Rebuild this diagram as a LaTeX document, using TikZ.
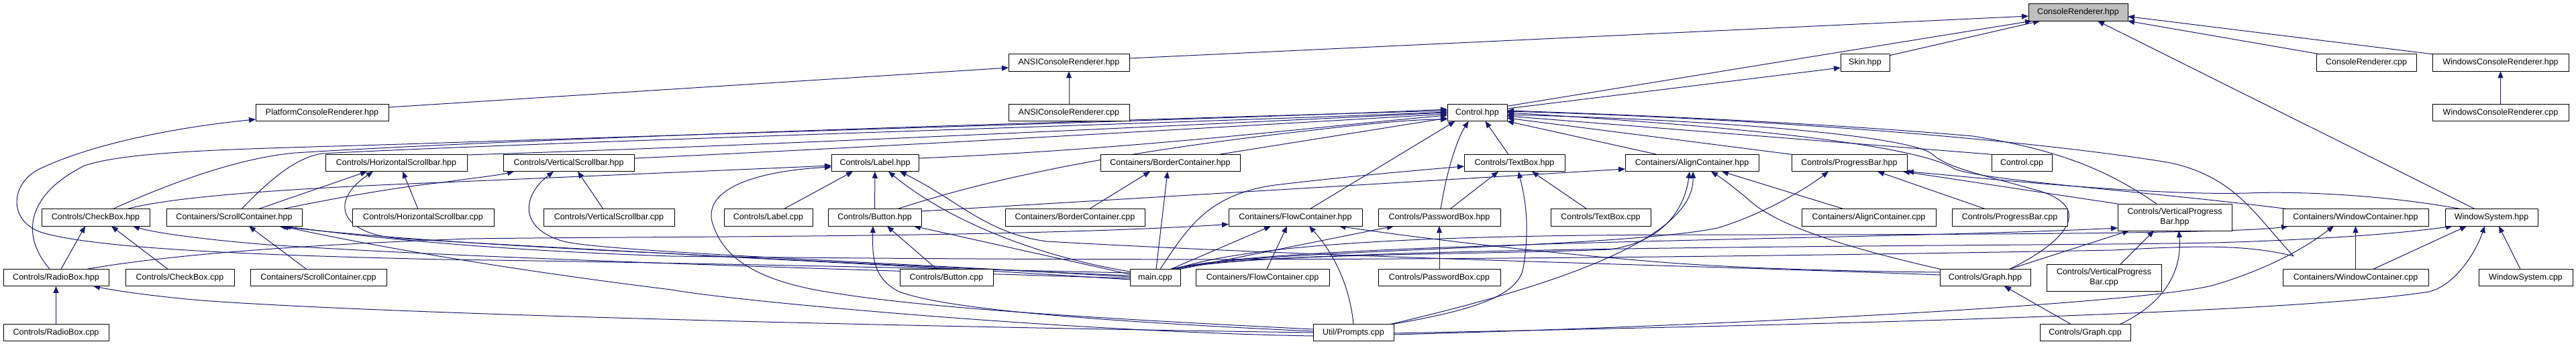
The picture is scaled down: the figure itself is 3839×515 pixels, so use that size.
\documentclass[tikz,border=0pt]{standalone}
\usepackage{fontspec}
\setmainfont{Liberation Sans}
\usetikzlibrary{arrows.meta}
\pgfdeclarelayer{bg}
\pgfdeclarelayer{background}
\pgfsetlayers{bg,background,main}
\definecolor{edgecol}{HTML}{191970}
\definecolor{rootfill}{HTML}{BFBFBF}
\begin{document}
\begin{tikzpicture}[x=1pt,y=-1pt,
  nd/.style={draw=black, line width=1pt, fill=white, rectangle, inner sep=0pt, outer sep=0pt,
    minimum height=25.5pt, font=\fontsize{12.5}{14.5}\selectfont, align=center},
  dep/.style={draw=edgecol, line width=1pt, -{Triangle[length=10pt,width=8pt]}}]
\useasboundingbox (0,0) rectangle (3839,515);
\begin{pgfonlayer}{bg}
\fill[white] (0,0) rectangle (3839,515);
\end{pgfonlayer}
% ---------------- nodes
\node[nd,fill=rootfill,minimum width=148pt] (CRh) at (3097,18.5) {ConsoleRenderer.hpp};
\node[nd,minimum width=180pt] (ANSIh) at (1593,93.5) {ANSIConsoleRenderer.hpp};
\node[nd,minimum width=73pt] (Skin) at (2779.5,93.5) {Skin.hpp};
\node[nd,minimum width=149pt] (CRc) at (3526.5,93.5) {ConsoleRenderer.cpp};
\node[nd,minimum width=203pt] (WCRh) at (3726.5,93.5) {WindowsConsoleRenderer.hpp};
\node[nd,minimum width=198pt] (Plat) at (480,168) {PlatformConsoleRenderer.hpp};
\node[nd,minimum width=180pt] (ANSIc) at (1593,168) {ANSIConsoleRenderer.cpp};
\node[nd,minimum width=89pt] (Ctrl) at (2201.5,168) {Control.hpp};
\node[nd,minimum width=203pt] (WCRc) at (3726.5,168) {WindowsConsoleRenderer.cpp};
\node[nd,minimum width=211pt] (HSh) at (590.5,243) {Controls/HorizontalScrollbar.hpp};
\node[nd,minimum width=195pt] (VSh) at (847.5,243) {Controls/VerticalScrollbar.hpp};
\node[nd,minimum width=130pt] (Labh) at (1304,243) {Controls/Label.hpp};
\node[nd,minimum width=208pt] (BCh) at (1744,243) {Containers/BorderContainer.hpp};
\node[nd,minimum width=150pt] (TBh) at (2257,243) {Controls/TextBox.hpp};
\node[nd,minimum width=199pt] (ACh) at (2521.5,243) {Containers/AlignContainer.hpp};
\node[nd,minimum width=172pt] (PBh) at (2756,243) {Controls/ProgressBar.hpp};
\node[nd,minimum width=90pt] (Ctrlc) at (3013,243) {Control.cpp};
\node[nd,minimum width=161pt] (CBh) at (142.5,324.5) {Controls/CheckBox.hpp};
\node[nd,minimum width=202pt] (SCh) at (349,324.5) {Containers/ScrollContainer.hpp};
\node[nd,minimum width=211pt] (HSc) at (630.5,324.5) {Controls/HorizontalScrollbar.cpp};
\node[nd,minimum width=195pt] (VSc) at (907.5,324.5) {Controls/VerticalScrollbar.cpp};
\node[nd,minimum width=132pt] (Labc) at (1145,324.5) {Controls/Label.cpp};
\node[nd,minimum width=139pt] (Buth) at (1303.5,324.5) {Controls/Button.hpp};
\node[nd,minimum width=208pt] (BCc) at (1602,324.5) {Containers/BorderContainer.cpp};
\node[nd,minimum width=199pt] (FCh) at (1930.5,324.5) {Containers/FlowContainer.hpp};
\node[nd,minimum width=182pt] (PWh) at (2145,324.5) {Controls/PasswordBox.hpp};
\node[nd,minimum width=149pt] (TBc) at (2385.5,324.5) {Controls/TextBox.cpp};
\node[nd,minimum width=200pt] (ACc) at (2785,324.5) {Containers/AlignContainer.cpp};
\node[nd,minimum width=172pt] (PBc) at (2995,324.5) {Controls/ProgressBar.cpp};
\node[nd,minimum width=170pt,minimum height=40pt] (VPBh) at (3241,324) {Controls/VerticalProgress\\Bar.hpp};
\node[nd,minimum width=217pt] (WCh) at (3510.5,324.5) {Containers/WindowContainer.hpp};
\node[nd,minimum width=138pt] (WSh) at (3713,324.5) {WindowSystem.hpp};
\node[nd,minimum width=157pt] (RBh) at (83.5,414) {Controls/RadioBox.hpp};
\node[nd,minimum width=162pt] (CBc) at (268,414) {Controls/CheckBox.cpp};
\node[nd,minimum width=203pt] (SCc) at (474.5,414) {Containers/ScrollContainer.cpp};
\node[nd,minimum width=139pt] (Butc) at (1410.5,414) {Controls/Button.cpp};
\node[nd,minimum width=75pt] (mainc) at (1721.5,414) {main.cpp};
\node[nd,minimum width=199pt] (FCc) at (1881.5,414) {Containers/FlowContainer.cpp};
\node[nd,minimum width=182pt] (PWc) at (2145,414) {Controls/PasswordBox.cpp};
\node[nd,minimum width=135pt] (Grh) at (2958.5,414) {Controls/Graph.hpp};
\node[nd,minimum width=171pt,minimum height=40pt] (VPBc) at (3135.5,414) {Controls/VerticalProgress\\Bar.cpp};
\node[nd,minimum width=217pt] (WCc) at (3510.5,414) {Containers/WindowContainer.cpp};
\node[nd,minimum width=140pt] (WSc) at (3764,414) {WindowSystem.cpp};
\node[nd,minimum width=157pt] (RBc) at (83.5,496) {Controls/RadioBox.cpp};
\node[nd,minimum width=120pt] (Prom) at (2017,496) {Util/Prompts.cpp};
\node[nd,minimum width=135pt] (Grc) at (3107.5,496) {Controls/Graph.cpp};
\coordinate (gh) at (3418,382);
% ---------------- edges
\begin{pgfonlayer}{background}
% top part
\draw[dep] ([yshift=6.5]ANSIh.east) -- ([yshift=-5.5]CRh.west);
\draw[dep] ([yshift=-2]Skin.north east) -- ([xshift=-57]CRh.south);
\draw[dep] ([yshift=-3]Ctrl.north east) -- ([xshift=5]CRh.south west);
\draw[dep] ([yshift=6]Ctrl.east) -- ([yshift=-7.5]Skin.west);
\draw[dep] ([xshift=-69.5]CRc.north) -- (CRh.south east);
\draw[dep] (WCRh.north west) -- ([yshift=-6]CRh.east);
\draw[dep] ([xshift=-24.5]WSh.north) -- ([xshift=29]CRh.south);
\draw[dep] ([yshift=8]Plat.east) -- ([yshift=-7.5]ANSIh.west);
\draw[dep] (ANSIc) -- (ANSIh);
\draw[dep] (WCRc) -- (WCRh);
\draw[dep] ([yshift=7]mainc.west) .. controls (1300,398) and (900,390) .. (660,387)
  .. controls (400,381) and (150,372) .. (63,347) .. controls (10,330) and (15,270) .. (63,250)
  .. controls (150,210) and (280,188) .. ([yshift=-10]Plat.west);
% into Control.hpp from the left
\draw[dep] ([xshift=-9.5]RBh.north) .. controls (30,350) and (40,290) .. (126,247)
  .. controls (200,222) and (400,222) .. (660,213) .. controls (1200,195) and (1900,175) .. ([yshift=5]Ctrl.west);
\draw[dep] ([xshift=25.5]CBh.north) .. controls (260,270) and (360,235) .. (440,228)
  .. controls (800,205) and (1700,178) .. ([yshift=3]Ctrl.west);
\draw[dep] ([xshift=11]SCh.north) .. controls (400,270) and (440,235) .. (480,229)
  .. controls (800,212) and (1800,182) .. ([yshift=1]Ctrl.west);
\draw[dep] ([yshift=12]HSh.east) .. controls (1200,215) and (1900,180) .. (Ctrl.west);
\draw[dep] ([yshift=7]VSh.east) .. controls (1300,220) and (1900,185) .. ([yshift=-2]Ctrl.west);
\draw[dep] ([yshift=7]Labh.east) .. controls (1700,222) and (1950,190) .. ([yshift=-4]Ctrl.west);
\draw[dep] ([xshift=73]BCh.north) -- ([yshift=-8]Ctrl.west);
\draw[dep] ([xshift=33.5]Buth.north) .. controls (1450,275) and (1620,232) .. (1940,196)
  .. controls (2050,183) and (2110,178) .. ([yshift=-10]Ctrl.west);
% into Control.hpp from below / right
\draw[dep] ([xshift=21.5]FCh.north) -- ([xshift=-33]Ctrl.south);
\draw[dep] ([xshift=2]PWh.north) .. controls (2155,260) and (2170,210) .. ([xshift=-13]Ctrl.south);
\draw[dep] ([xshift=-9]TBh.north) -- ([xshift=12]Ctrl.south);
\draw[dep] ([xshift=-52.5]ACh.north) -- (Ctrl.south east);
\draw[dep] (PBh.north west) -- ([yshift=-8]Ctrl.east);
\draw[dep] (Ctrlc.north west) -- ([yshift=-5]Ctrl.east);
\draw[dep] ([xshift=-27]VPBh.north) .. controls (3150,260) and (3080,225) .. (2940,203)
  .. controls (2700,182) and (2400,170) .. ([yshift=3]Ctrl.east);
\draw[dep] ([xshift=-101]WCh.north) .. controls (3200,285) and (2960,270) .. (2913,252)
  .. controls (2870,225) and (2700,195) .. (Ctrl.east);
\draw[dep] ([xshift=36.5]Grh.north) .. controls (3080,360) and (3120,310) .. (3040,285)
  .. controls (2960,262) and (2900,250) .. (2880,230) .. controls (2850,205) and (2600,180) .. ([yshift=-3]Ctrl.east);
\draw[dep] (gh) .. controls (3360,320) and (3330,262) .. (3230,242)
  .. controls (3000,205) and (2600,176) .. ([yshift=2]Ctrl.east);
\draw[dep] (gh) .. controls (3340,362) and (3250,368) .. (3150,373)
  .. controls (2500,385) and (1800,392) .. (1000,382) .. controls (700,372) and (520,350) .. ([xshift=74]SCh.south);
\draw[dep] ([xshift=-45]WSh.north) .. controls (3550,290) and (3420,285) .. (3350,288)
  .. controls (3200,292) and (2950,265) .. (PBh.south east);
% Label / Button
\draw[dep] (Buth) -- (Labh);
\draw[dep] ([xshift=23]Labc.north) -- ([xshift=-33]Labh.south);
\draw[dep] ([yshift=9]mainc.west) .. controls (1560,385) and (1420,335) .. ([xshift=20]Labh.south);
\draw[dep] ([yshift=4]Grh.west) .. controls (2500,395) and (2000,385) .. (1560,360)
  .. controls (1470,348) and (1430,300) .. ([xshift=37]Labh.south);
\draw[dep] ([xshift=46.5]CBh.north) .. controls (250,295) and (400,282) .. (660,272) -- ([yshift=-4]Labh.west);
\draw[dep] ([yshift=5]Prom.west) .. controls (1700,478) and (1400,462) .. (1250,438)
  .. controls (1120,420) and (1075,380) .. (1061,330) .. controls (1050,280) and (1130,255) .. ([yshift=-6]Labh.west);
\draw[dep] ([xshift=-14.5]Butc.north) -- ([xshift=18.5]Buth.south);
\draw[dep] ([yshift=5]mainc.west) -- ([xshift=58.5]Buth.south);
\draw[dep] ([yshift=2]Prom.west) .. controls (1700,482) and (1420,465) .. (1340,435)
  .. controls (1300,415) and (1300,380) .. ([xshift=-2.5]Buth.south);
\draw[dep] ([yshift=9.5]Buth.east) -- ([yshift=-9]ACh.west);
\draw[dep] ([xshift=7.5]mainc.north) .. controls (1770,340) and (1800,290) .. (1900,276)
  .. controls (2000,264) and (2100,255) .. ([yshift=-5]TBh.west);
% BorderContainer
\draw[dep] ([xshift=21]BCc.north) -- ([xshift=-30]BCh.south);
\draw[dep] ([xshift=1.5]mainc.north) -- ([xshift=-4]BCh.south);
% Scrollbars
\draw[dep] ([xshift=36]SCh.north) -- ([xshift=-43.5]HSh.south);
\draw[dep] ([yshift=3]mainc.west) .. controls (1300,395) and (800,368) .. (600,356)
  .. controls (505,350) and (490,300) .. ([xshift=-34.5]HSh.south);
\draw[dep] ([xshift=-7.5]HSc.north) -- ([xshift=9.5]HSh.south);
\draw[dep] ([xshift=72]SCh.north) .. controls (500,295) and (600,278) .. (660,272)
  .. controls (700,266) and (740,262) .. ([xshift=-81.5]VSh.south);
\draw[dep] ([yshift=1]mainc.west) .. controls (1300,390) and (900,375) .. (840,360)
  .. controls (770,340) and (780,290) .. ([xshift=-22.5]VSh.south);
\draw[dep] ([xshift=-8.5]VSc.north) -- ([xshift=13.5]VSh.south);
% CheckBox / ScrollContainer / RadioBox
\draw[dep] ([xshift=7.5]RBh.north) -- ([xshift=-15.5]CBh.south);
\draw[dep] ([xshift=-18]CBc.north) -- ([xshift=23.5]CBh.south);
\draw[dep] ([yshift=-1]mainc.west) .. controls (1200,400) and (700,385) .. (400,365)
  .. controls (300,357) and (230,347) .. ([xshift=55.5]CBh.south);
\draw[dep] ([xshift=-18]SCc.north) -- ([xshift=22]SCh.south);
\draw[dep] ([yshift=-3]mainc.west) .. controls (1400,398) and (1100,385) .. (1000,378)
  .. controls (700,365) and (500,348) .. ([xshift=67]SCh.south);
\draw[dep] ([yshift=-5]Prom.west) .. controls (1600,495) and (1100,450) .. (1000,432)
  .. controls (700,395) and (500,355) .. ([xshift=71]SCh.south);
\draw[dep] (RBc) -- (RBh);
\draw[dep] (Prom.west) .. controls (1400,488) and (600,470) .. (300,448)
  .. controls (220,441) and (170,433) .. ([xshift=55.5]RBh.south);
\draw[dep] ([xshift=46.5]RBh.north) .. controls (250,380) and (450,365) .. (700,356)
  .. controls (1000,352) and (1500,355) .. ([yshift=-10]FCh.west);
% FlowContainer
\draw[dep] ([xshift=23.5]mainc.north) -- ([xshift=-36.5]FCh.south);
\draw[dep] ([xshift=6.5]FCc.north) -- ([xshift=-12.5]FCh.south);
\draw[dep] (Prom.north) .. controls (2012,430) and (1990,380) .. ([xshift=20.5]FCh.south);
\draw[dep] ([yshift=8]Grh.west) .. controls (2700,404) and (2550,398) .. (2440,388)
  .. controls (2250,372) and (2080,350) .. ([xshift=65]FCh.south);
% PasswordBox / TextBox
\draw[dep] ([xshift=16]PWh.north) -- ([xshift=-24]TBh.south);
\draw[dep] (mainc.north east) -- ([xshift=-68]PWh.south);
\draw[dep] (PWc) -- (PWh);
\draw[dep] ([xshift=-1]Prom.north east) .. controls (2200,462) and (2262,440) .. (2270,400)
  .. controls (2282,330) and (2270,285) .. ([xshift=6]TBh.south);
\draw[dep] ([xshift=-20.5]TBc.north) -- ([xshift=26]TBh.south);
% AlignContainer
\draw[dep] ([xshift=-14]mainc.north east) .. controls (1850,378) and (2200,380) .. (2400,372)
  .. controls (2490,358) and (2512,300) .. ([xshift=-3.5]ACh.south);
\draw[dep] ([xshift=-4]Prom.north east) .. controls (2300,430) and (2525,360) .. ([xshift=1.5]ACh.south);
\draw[dep] (Grh.north west) .. controls (2720,362) and (2640,330) .. (2605,297)
  .. controls (2585,280) and (2565,265) .. ([xshift=28.5]ACh.south);
\draw[dep] ([xshift=-37]ACc.north) -- ([xshift=44.5]ACh.south);
% ProgressBar
\draw[dep] ([xshift=-12]mainc.north east) .. controls (1850,372) and (2400,372) .. (2560,340)
  .. controls (2640,315) and (2700,275) .. ([xshift=-31]PBh.south);
\draw[dep] ([xshift=-36]PBc.north) -- ([xshift=42]PBh.south);
\draw[dep] (VPBh.north west) -- ([xshift=-6]PBh.south east);
% VerticalProgressBar / Graph
\draw[dep] ([xshift=-10]mainc.north east) .. controls (1900,360) and (2800,358) .. ([yshift=-16]VPBh.west);
\draw[dep] ([xshift=36.5]Grh.north) -- ([xshift=-68]VPBh.south);
\draw[dep] ([xshift=24.5]VPBc.north) -- ([xshift=-31]VPBh.south);
\draw[dep] ([xshift=52.5]Grc.north) .. controls (3230,450) and (3252,400) .. ([xshift=6]VPBh.south);
\draw[dep] ([xshift=-21.5]Grc.north) -- ([xshift=28.5]Grh.south);
% WindowContainer / WindowSystem
\draw[dep] ([xshift=-8]mainc.north east) .. controls (1900,352) and (2300,350) .. (2600,350)
  .. controls (3000,350) and (3350,347) .. ([xshift=8]WCh.south west);
\draw[dep] ([yshift=-3]Prom.east) .. controls (2600,485) and (3200,452) .. (3300,425)
  .. controls (3400,395) and (3450,358) .. ([xshift=-32.5]WCh.south);
\draw[dep] (WCc) -- (WCh);
\draw[dep] ([xshift=-6]mainc.north east) .. controls (1900,365) and (3000,368) .. (3300,362)
  .. controls (3500,356) and (3600,345) .. ([xshift=-58]WSh.south);
\draw[dep] ([xshift=26.5]WCc.north) -- ([xshift=-37]WSh.south);
\draw[dep] ([yshift=-1]Prom.east) .. controls (2600,486) and (3400,470) .. (3620,435)
  .. controls (3660,425) and (3690,375) .. ([xshift=-10]WSh.south);
\draw[dep] ([xshift=-8]WSc.north) -- ([xshift=11]WSh.south);
\end{pgfonlayer}
\end{tikzpicture}
\end{document}
